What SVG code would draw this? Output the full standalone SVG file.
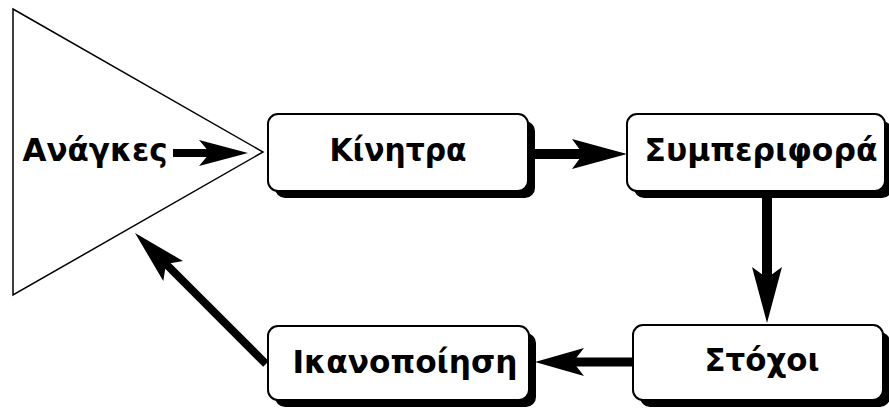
<svg xmlns="http://www.w3.org/2000/svg" width="889" height="408" viewBox="0 0 889 408">
<style>
.box{fill:#fff;stroke:#000;stroke-width:2}
.sh{fill:#000}
.lbl{font-family:"DejaVu Sans",Verdana,sans-serif;font-weight:bold;font-size:32px;fill:#000;text-anchor:middle}
.shaft{stroke:#000;fill:none}
.head{fill:#000;stroke:none}
</style>
<rect width="889" height="408" fill="#fff"/>
<g id="needs">
<polygon points="13,9 263,152 13,295" fill="#fff" stroke="#000" stroke-width="1.5"/>
<text class="lbl" x="95" y="161" textLength="145" lengthAdjust="spacingAndGlyphs">Ανάγκες</text>
</g>
<g id="incentives">
<rect class="sh" x="275" y="121" width="260" height="77" rx="10"/>
<rect class="box" x="268" y="114" width="260" height="77" rx="10"/>
<text class="lbl" x="398" y="161" textLength="137" lengthAdjust="spacingAndGlyphs">Κίνητρα</text>
</g>
<g id="behavior">
<rect class="sh" x="634" y="121" width="258" height="77" rx="10"/>
<rect class="box" x="627" y="114" width="258" height="77" rx="10"/>
<text class="lbl" x="761" y="161" textLength="233" lengthAdjust="spacingAndGlyphs">Συμπεριφορά</text>
</g>
<g id="goals">
<rect class="sh" x="640" y="332" width="250" height="75" rx="10"/>
<rect class="box" x="633" y="325" width="250" height="75" rx="10"/>
<text class="lbl" x="762" y="371" textLength="115" lengthAdjust="spacingAndGlyphs">Στόχοι</text>
</g>
<g id="satisfaction">
<rect class="sh" x="275" y="333" width="261" height="74" rx="10"/>
<rect class="box" x="268" y="326" width="261" height="74" rx="10"/>
<text class="lbl" x="405" y="373" textLength="225" lengthAdjust="spacingAndGlyphs">Ικανοποίηση</text>
</g>
<g id="connectors">
<line class="shaft" x1="173" y1="153" x2="211" y2="153" stroke-width="8"/>
<polygon class="head" points="248,153 199,140 210,153 199,166"/>
<line class="shaft" x1="535" y1="154" x2="584" y2="154" stroke-width="10"/>
<polygon class="head" points="627,154 572,139 583,154 572,169"/>
<line class="shaft" x1="767" y1="197" x2="767" y2="279" stroke-width="10"/>
<polygon class="head" points="767,323 752,267 767,278 782,267"/>
<line class="shaft" x1="633" y1="362" x2="572" y2="362" stroke-width="9"/>
<polygon class="head" points="535,362 584,348 573,362 584,376"/>
<line class="shaft" x1="266" y1="364" x2="165" y2="263" stroke-width="8"/>
<polygon class="head" points="135,233 183,261 166,264 163.3,281"/>
</g>
</svg>
